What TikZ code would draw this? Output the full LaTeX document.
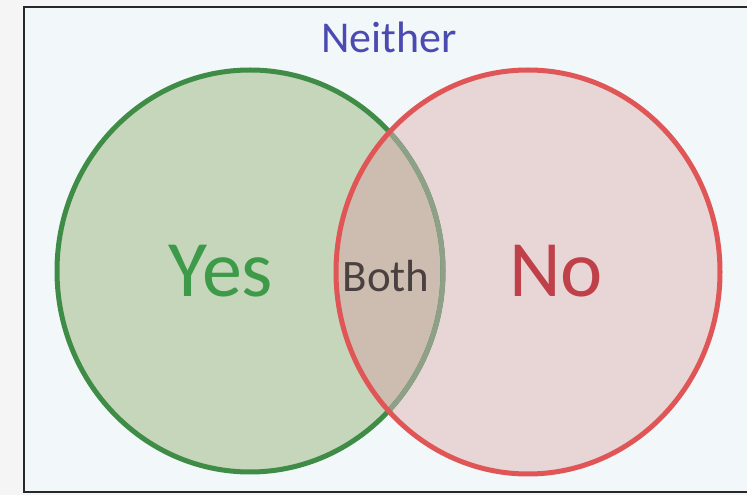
\documentclass[tikz,border=0pt]{standalone}
\usepackage{fontspec}
\setmainfont{Carlito}
\definecolor{outerbg}{HTML}{F5F5F5}
\definecolor{innerbg}{HTML}{F2F7FA}
\definecolor{gfill}{HTML}{C6D6BB}
\definecolor{rfill}{HTML}{E8D6D6}
\definecolor{bfill}{HTML}{CDBDB0}
\definecolor{gline}{HTML}{3F8C47}
\definecolor{gline2}{HTML}{8FA088}
\definecolor{rline}{HTML}{E05555}
\definecolor{neithercol}{HTML}{4A4AB0}
\definecolor{yescol}{HTML}{3C9A48}
\definecolor{nocol}{HTML}{C0404A}
\definecolor{bothcol}{HTML}{4A4040}
\begin{document}
\begin{tikzpicture}[x=1pt,y=1pt,
  lbl/.style={inner sep=0pt, anchor=base}]
\useasboundingbox (0,0) rectangle (747,495);
\clip (0,0) rectangle (747,495);
\fill[outerbg] (0,0) rectangle (747,495);
\draw[line width=2.2pt, draw={rgb,255:red,40;green,40;blue,40}, fill=innerbg] (24,3) rectangle (752,488);
\def\gshape{(250,224) ellipse [x radius=193, y radius=201]}
\def\rshape{(528,223) ellipse [x radius=192, y radius=202]}
\fill[gfill] \gshape;
\fill[rfill] \rshape;
\begin{scope}
  \clip \gshape;
  \fill[bfill] \rshape;
\end{scope}
\draw[gline, line width=5pt] \gshape;
\begin{scope}
  \clip \rshape;
  \draw[gline2, line width=5pt] \gshape;
\end{scope}
\draw[rline, line width=5pt] \rshape;
\node[lbl, text=neithercol, font=\fontsize{44}{44}\selectfont] (neither) at (389,442) {Neither};
\node[lbl, text=yescol, font=\fontsize{80}{80}\selectfont] (yes) at (221,198) {Yes};
\node[lbl, text=nocol, font=\fontsize{80}{80}\selectfont] (no) at (556,198) {No};
\node[lbl, text=bothcol, font=\fontsize{45}{45}\selectfont] (both) at (386,203) {Both};
\end{tikzpicture}
\end{document}
